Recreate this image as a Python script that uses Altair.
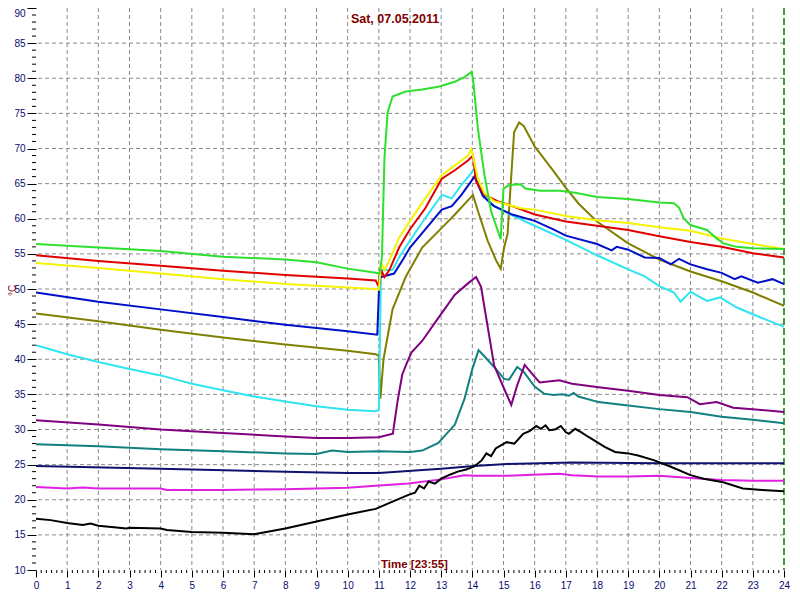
import altair as alt
import pandas as pd

# ---------------- data (hours, °C) ----------------
green_h = [0, 2, 4, 6, 8, 9, 10, 10.9, 11.02, 11.1, 11.18, 11.28, 11.44, 11.86, 12.39, 12.91, 13.44, 13.76, 13.97, 14.02, 14.18, 14.39, 14.6, 14.91, 15.0, 15.18, 15.55, 15.7, 16.18, 16.81, 17.3, 18.0, 19.0, 20.0, 20.47, 20.63, 20.79, 21.0, 21.53, 21.84, 22.05, 22.47, 23.0, 24.0]
green_t = [56.4, 55.9, 55.4, 54.6, 54.2, 53.8, 52.9, 52.3, 52.2, 54.5, 68.6, 75.1, 77.4, 78.1, 78.4, 78.8, 79.5, 80.2, 80.9, 80.0, 72.8, 66.2, 61.1, 57.1, 64.3, 64.8, 64.9, 64.3, 64.0, 64.0, 63.7, 63.1, 62.8, 62.3, 62.2, 61.6, 60.0, 59.1, 58.4, 57.2, 56.5, 56.0, 55.8, 55.7]

red_h = [0, 2, 4, 6, 8, 10, 10.9, 11.0, 11.07, 11.18, 11.34, 11.65, 12.0, 12.49, 13.02, 13.44, 13.86, 14.02, 14.12, 14.39, 14.81, 15.28, 16.0, 17.0, 18.0, 19.0, 20.0, 21.0, 22.0, 23.0, 24.0]
red_t = [54.8, 54.0, 53.3, 52.6, 52.0, 51.5, 51.2, 50.3, 52.7, 51.7, 52.7, 55.9, 58.5, 61.5, 65.7, 66.9, 68.3, 69.0, 65.3, 63.4, 62.5, 61.8, 60.6, 59.6, 59.0, 58.4, 57.5, 56.7, 56.0, 55.1, 54.5]

yellow_h = [0, 2, 4, 6, 8, 10, 10.9, 11.0, 11.07, 11.18, 11.34, 11.65, 12.0, 12.49, 13.02, 13.44, 13.86, 13.97, 14.18, 14.39, 14.7, 15.55, 16.0, 17.0, 18.0, 19.0, 20.0, 21.0, 22.0, 23.0, 24.0]
yellow_t = [53.7, 53.0, 52.2, 51.4, 50.7, 50.2, 50.0, 49.9, 53.8, 52.7, 54.1, 57.3, 59.7, 62.9, 66.2, 67.6, 69.0, 69.9, 65.7, 63.6, 62.5, 61.5, 61.3, 60.4, 59.8, 59.4, 58.8, 58.3, 57.2, 56.4, 55.7]

blue_h = [0, 2, 4, 6, 8, 10, 10.95, 11.02, 11.07, 11.49, 11.76, 12.0, 12.49, 13.02, 13.34, 13.65, 14.07, 14.34, 14.7, 15.28, 16.0, 16.6, 17.0, 18.0, 18.47, 18.63, 19.0, 19.53, 20.0, 20.37, 20.63, 21.0, 21.53, 22.0, 22.42, 22.63, 23.16, 23.63, 24.0]
blue_t = [49.5, 48.2, 47.1, 46.0, 44.9, 44.0, 43.5, 51.7, 51.7, 52.2, 54.1, 55.9, 58.5, 61.3, 61.8, 63.4, 66.0, 63.2, 61.8, 60.6, 59.7, 58.5, 57.6, 56.4, 55.5, 56.0, 55.6, 54.5, 54.4, 53.5, 54.3, 53.5, 52.8, 52.3, 51.4, 51.8, 50.9, 51.4, 50.7]

olive_h = [0, 2, 4, 6, 8, 10, 10.9, 11.0, 11.05, 11.15, 11.44, 11.86, 12.39, 13.02, 13.44, 14.02, 14.18, 14.49, 14.76, 14.91, 15.02, 15.13, 15.23, 15.34, 15.5, 15.65, 16.0, 16.6, 17.0, 17.42, 18.0, 19.0, 20.0, 21.0, 22.0, 23.0, 24.0]
olive_t = [46.5, 45.4, 44.2, 43.1, 42.1, 41.2, 40.7, 40.5, 34.4, 40.0, 47.1, 51.7, 55.9, 58.7, 60.6, 63.4, 61.1, 56.9, 54.1, 52.9, 55.9, 57.8, 64.8, 72.3, 73.7, 73.2, 70.3, 66.8, 64.4, 62.1, 59.6, 56.5, 54.2, 52.5, 51.1, 49.5, 47.6]

cyan_h = [0, 1, 2, 3, 4, 5, 6, 7, 8, 9, 10, 10.9, 11.0, 11.07, 11.44, 11.65, 12.0, 12.49, 13.02, 13.34, 13.65, 14.07, 14.28, 14.6, 15.13, 16.0, 17.0, 18.0, 19.0, 19.53, 20.0, 20.47, 20.68, 21.0, 21.53, 21.95, 22.47, 23.0, 24.0]
cyan_t = [42.0, 40.7, 39.6, 38.6, 37.7, 36.5, 35.6, 34.7, 34.0, 33.3, 32.8, 32.6, 32.8, 52.7, 52.7, 54.5, 56.9, 60.1, 63.4, 62.9, 64.8, 67.1, 63.9, 62.0, 60.8, 59.0, 57.0, 54.8, 52.8, 51.8, 50.4, 49.5, 48.2, 49.6, 48.3, 48.8, 47.4, 46.4, 44.6]

purple_h = [0, 2, 4, 6, 8, 9, 10, 11, 11.45, 11.6, 11.75, 11.9, 12.05, 12.39, 12.91, 13.44, 13.86, 14.12, 14.28, 14.49, 14.7, 15.02, 15.25, 15.44, 15.68, 15.96, 16.16, 16.79, 17.2, 18.05, 19.0, 20.0, 20.9, 21.3, 21.84, 22.37, 23.0, 24.0]
purple_t = [31.3, 30.7, 30.0, 29.5, 29.0, 28.8, 28.8, 28.9, 29.4, 34.0, 37.8, 39.5, 41.0, 42.6, 45.9, 49.2, 50.8, 51.7, 50.3, 44.7, 39.1, 35.8, 33.5, 36.3, 39.2, 37.7, 36.7, 37.0, 36.5, 36.0, 35.5, 34.9, 34.6, 33.6, 33.9, 33.1, 32.9, 32.5]

teal_h = [0, 2, 4, 6, 8, 9, 9.5, 10, 11, 12.0, 12.39, 12.91, 13.44, 13.75, 14.0, 14.2, 14.37, 14.7, 15.02, 15.18, 15.44, 15.65, 16.0, 16.3, 16.6, 16.9, 17.1, 17.25, 17.4, 18.05, 19.0, 20.0, 21.0, 22.0, 23.0, 24.0]
teal_t = [27.9, 27.6, 27.2, 26.9, 26.6, 26.5, 27.0, 26.8, 26.9, 26.8, 27.0, 28.1, 30.7, 34.4, 38.6, 41.3, 40.5, 38.9, 37.2, 37.1, 38.9, 38.2, 36.1, 35.1, 34.9, 35.0, 34.8, 35.2, 34.7, 33.9, 33.4, 32.9, 32.5, 31.8, 31.4, 30.9]

navy_h = [0, 4, 8, 10, 11, 13.0, 14.05, 15.1, 16.16, 17.2, 20, 24]
navy_t = [24.8, 24.4, 24.0, 23.8, 23.8, 24.4, 24.8, 25.1, 25.2, 25.3, 25.2, 25.2]

magenta_h = [0, 1, 1.5, 2, 4, 4.2, 6, 8, 10, 10.9, 11.95, 13.0, 13.74, 14.05, 15.1, 16.16, 16.79, 17.2, 18.05, 19.0, 20.0, 21.0, 22.0, 23.0, 24.0]
magenta_t = [21.8, 21.6, 21.75, 21.6, 21.6, 21.4, 21.4, 21.5, 21.7, 22.0, 22.3, 22.9, 23.5, 23.4, 23.4, 23.6, 23.7, 23.5, 23.3, 23.3, 23.4, 23.1, 22.8, 22.7, 22.7]

black_h = [0, 0.47, 1.0, 1.5, 1.75, 2.0, 2.5, 2.9, 3.0, 4.0, 4.2, 5.0, 6.0, 7.0, 8.0, 9.0, 10.0, 10.9, 11.42, 11.95, 12.16, 12.3, 12.45, 12.6, 12.8, 13.0, 13.3, 13.53, 13.8, 14.05, 14.3, 14.45, 14.6, 14.75, 15.1, 15.35, 15.63, 15.85, 16.05, 16.2, 16.35, 16.47, 16.65, 16.84, 17.0, 17.1, 17.3, 17.5, 17.74, 18.0, 18.26, 18.58, 19.0, 19.32, 19.84, 20.37, 21.0, 21.42, 22.05, 22.68, 23.3, 24.0]
black_t = [17.3, 17.1, 16.7, 16.4, 16.6, 16.3, 16.1, 15.9, 16.0, 15.9, 15.7, 15.4, 15.3, 15.1, 15.9, 16.9, 17.9, 18.7, 19.7, 20.7, 21.0, 22.0, 21.6, 22.6, 22.3, 23.0, 23.6, 24.0, 24.3, 24.7, 25.6, 26.6, 26.2, 27.3, 28.2, 28.0, 29.4, 29.8, 30.5, 30.1, 30.6, 29.9, 30.0, 30.5, 29.6, 29.4, 30.1, 29.6, 28.9, 28.2, 27.5, 26.8, 26.6, 26.3, 25.6, 24.7, 23.5, 23.0, 22.5, 21.6, 21.4, 21.2]

series_names = ["navy", "magenta", "black", "teal", "purple", "olive", "cyan", "blue", "red", "yellow", "green"]
series_colors = ["#10106e", "#e020e0", "#000000", "#108080", "#800080", "#808000", "#30e4f0", "#0010c8", "#e00000", "#f4f400", "#2ee02e"]
series_data = {
    "navy": (navy_h, navy_t), "magenta": (magenta_h, magenta_t), "black": (black_h, black_t),
    "teal": (teal_h, teal_t), "purple": (purple_h, purple_t), "olive": (olive_h, olive_t),
    "cyan": (cyan_h, cyan_t), "blue": (blue_h, blue_t), "red": (red_h, red_t),
    "yellow": (yellow_h, yellow_t), "green": (green_h, green_t),
}

x_ticks = list(range(0, 25))
y_ticks = list(range(10, 95, 5))
x_grid = list(range(1, 24))
y_grid = list(range(15, 90, 5))
x_minor = [k / 6 for k in range(0, 145) if k % 6 != 0]
y_minor = [v for v in range(10, 91) if v % 5 != 0]
now_hour = [24]

title_text = "Sat, 07.05.2011"
time_text = "Time [23:55]"
y_title = "°C"

rows = []
for name in series_names:
    hs, ts = series_data[name]
    for h, t in zip(hs, ts):
        rows.append({"series": name, "hour": h, "temp": t})
df = pd.DataFrame(rows)

W, H = 748, 562
LABEL = "#0a0a6e"
DARKRED = "#800000"

xs = alt.Scale(domain=[0, 24], nice=False, zero=False)
ys = alt.Scale(domain=[10, 90], nice=False, zero=False)

x_axis = alt.Axis(
    values=x_ticks, grid=False, domain=False, tickSize=7, tickColor="black",
    labelColor=LABEL, labelFont="Liberation Sans", labelFontSize=10,
    labelPadding=3, labelFlush=False, labelOverlap=False, title=None)
y_axis = alt.Axis(
    values=y_ticks, grid=False, domain=False, tickSize=9, tickColor="black",
    labelColor=LABEL, labelFont="Liberation Sans", labelFontSize=10,
    labelPadding=2, labelFlush=False, labelOverlap=False,
    labelBaseline={"condition": {"test": "datum.value >= 90", "value": "top"}, "value": "middle"},
    title=y_title, titleColor=DARKRED, titleFont="Liberation Sans",
    titleFontSize=10, titleFontWeight="normal", titleX=-24, titleY=282,
    titleAlign="center", titleBaseline="middle", titleAngle=270)

X = alt.X("hour:Q", scale=xs, axis=x_axis)
Y = alt.Y("temp:Q", scale=ys, axis=y_axis)

vgrid = alt.Chart(pd.DataFrame({"hour": x_grid})).mark_rule(
    color="#8a8a8a", strokeDash=[4, 3], strokeWidth=1
).encode(x=X)

hgrid = alt.Chart(pd.DataFrame({"temp": y_grid})).mark_rule(
    color="#8a8a8a", strokeDash=[4, 3], strokeWidth=1
).encode(y=Y)

now_line = alt.Chart(pd.DataFrame({"hour": now_hour})).mark_rule(
    color="#008000", strokeDash=[7, 3], strokeWidth=1.5
).encode(x=X)

lines = alt.Chart(df).mark_line(strokeWidth=2, clip=True).encode(
    x=X, y=Y,
    color=alt.Color("series:N", scale=alt.Scale(domain=series_names, range=series_colors), legend=None),
)

ymin = alt.Chart(pd.DataFrame({"temp": y_minor})).mark_rule(color="black", clip=False).encode(
    y=Y, x=alt.value(-4), x2=alt.value(0))

xmin = alt.Chart(pd.DataFrame({"hour": x_minor})).mark_rule(color="black", clip=False).encode(
    x=X, y=alt.value(H), y2=alt.value(H + 3))

title_mark = alt.Chart(pd.DataFrame({"t": [title_text]})).mark_text(
    font="Liberation Sans", fontSize=12.5, fontWeight="bold", color=DARKRED, baseline="middle", align="center"
).encode(text="t:N", x=alt.value(W * 0.48), y=alt.value(11))

time_mark = alt.Chart(pd.DataFrame({"t": [time_text]})).mark_text(
    font="Liberation Sans", fontSize=11.5, fontWeight="bold", color=DARKRED, baseline="middle", align="center"
).encode(text="t:N", x=alt.value(W * 0.506), y=alt.value(H - 5))

chart = alt.layer(vgrid, hgrid, now_line, lines, ymin, xmin, title_mark, time_mark).properties(
    width=W, height=H,
    autosize=alt.AutoSizeParams(type="none"),
    padding={"left": 28, "top": 0, "right": 8, "bottom": 21},
    background="white",
).configure_view(stroke=None)

chart.save("out.html", embed_options={"renderer": "svg", "actions": False})
